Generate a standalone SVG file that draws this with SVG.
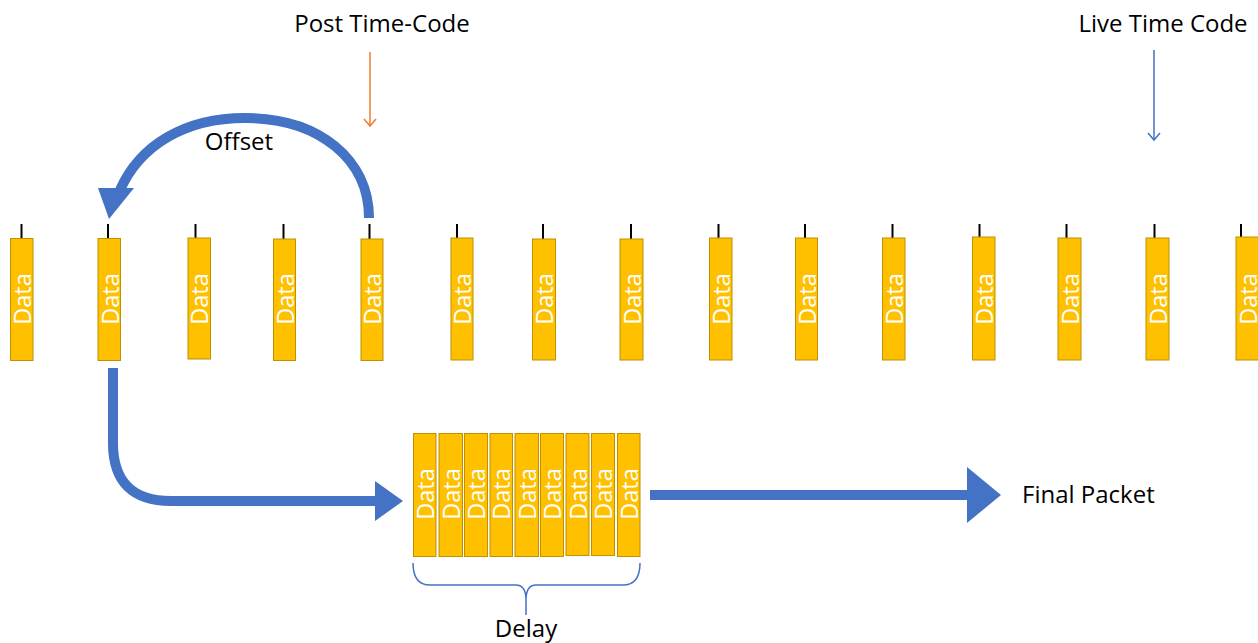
<svg xmlns="http://www.w3.org/2000/svg" width="1258" height="643" viewBox="0 0 1258 643">
<defs>
<style>
.box{fill:#FFC000;stroke:#BF9000;stroke-width:1}
.dt{fill:#ffffff;font-family:"Open Sans","Noto Sans",sans-serif;font-size:23.5px;text-anchor:middle;dominant-baseline:central}
.tick{stroke:#000;stroke-width:2}
.lbl{fill:#000;font-family:"Open Sans","Noto Sans",sans-serif;font-size:24px}
.big{fill:none;stroke:#4472C4;stroke-width:10}
.head{fill:#4472C4}
</style>
</defs>
<rect width="1258" height="643" fill="#ffffff"/>
<g id="labels">
<text class="lbl" x="382" y="32" text-anchor="middle">Post Time-Code</text>
<text class="lbl" x="1163" y="32" text-anchor="middle">Live Time Code</text>
<text class="lbl" x="239" y="150" text-anchor="middle">Offset</text>
<text class="lbl" x="1022" y="503">Final Packet</text>
<text class="lbl" x="526" y="637" text-anchor="middle">Delay</text>
</g>
<g id="row">
<g id="n1"><line class="tick" x1="21.5" y1="224" x2="21.5" y2="238"/><rect class="box" x="10.5" y="238.5" width="22.5" height="122"/><text class="dt" transform="translate(21.5,299) rotate(-90)">Data</text></g>
<g id="n2"><line class="tick" x1="108" y1="224" x2="108" y2="238"/><rect class="box" x="98" y="238.5" width="22.5" height="122"/><text class="dt" transform="translate(109.5,299) rotate(-90)">Data</text></g>
<g id="n3"><line class="tick" x1="195.5" y1="224" x2="195.5" y2="238"/><rect class="box" x="188" y="238" width="22.5" height="121"/><text class="dt" transform="translate(199,299) rotate(-90)">Data</text></g>
<g id="n4"><line class="tick" x1="283.5" y1="224" x2="283.5" y2="239"/><rect class="box" x="273.5" y="239" width="22" height="121.5"/><text class="dt" transform="translate(284.5,299) rotate(-90)">Data</text></g>
<g id="n5"><line class="tick" x1="369.5" y1="224" x2="369.5" y2="239"/><rect class="box" x="361" y="239" width="22" height="121.5"/><text class="dt" transform="translate(372,299) rotate(-90)">Data</text></g>
<g id="n6"><line class="tick" x1="457" y1="224" x2="457" y2="238"/><rect class="box" x="451" y="238" width="22" height="122"/><text class="dt" transform="translate(462,299) rotate(-90)">Data</text></g>
<g id="n7"><line class="tick" x1="543" y1="224" x2="543" y2="239"/><rect class="box" x="532.5" y="239" width="23" height="121"/><text class="dt" transform="translate(544,299) rotate(-90)">Data</text></g>
<g id="n8"><line class="tick" x1="631" y1="224" x2="631" y2="239"/><rect class="box" x="620" y="239" width="23" height="121"/><text class="dt" transform="translate(631.5,299) rotate(-90)">Data</text></g>
<g id="n9"><line class="tick" x1="718.5" y1="224" x2="718.5" y2="238"/><rect class="box" x="709.5" y="238" width="22.5" height="122"/><text class="dt" transform="translate(720.5,299) rotate(-90)">Data</text></g>
<g id="n10"><line class="tick" x1="805" y1="224" x2="805" y2="238"/><rect class="box" x="795.5" y="238" width="22" height="122"/><text class="dt" transform="translate(806.5,299) rotate(-90)">Data</text></g>
<g id="n11"><line class="tick" x1="892.5" y1="224" x2="892.5" y2="238"/><rect class="box" x="882.5" y="238" width="22.5" height="122"/><text class="dt" transform="translate(893.5,299) rotate(-90)">Data</text></g>
<g id="n12"><line class="tick" x1="979.5" y1="224" x2="979.5" y2="237"/><rect class="box" x="972.5" y="237" width="22.5" height="123"/><text class="dt" transform="translate(983.5,299) rotate(-90)">Data</text></g>
<g id="n13"><line class="tick" x1="1066.5" y1="224" x2="1066.5" y2="238"/><rect class="box" x="1058" y="238" width="23" height="122"/><text class="dt" transform="translate(1069.5,299) rotate(-90)">Data</text></g>
<g id="n14"><line class="tick" x1="1154.5" y1="224" x2="1154.5" y2="238"/><rect class="box" x="1146" y="238" width="23" height="122"/><text class="dt" transform="translate(1157.5,299) rotate(-90)">Data</text></g>
<g id="n15"><line class="tick" x1="1241" y1="224" x2="1241" y2="237"/><rect class="box" x="1236" y="237" width="23" height="123"/><text class="dt" transform="translate(1247.5,299) rotate(-90)">Data</text></g>
</g>
<g id="delay">
<g id="d1"><rect class="box" x="413.5" y="433.5" width="22.5" height="123"/><text class="dt" transform="translate(424.7,494) rotate(-90)">Data</text></g>
<g id="d2"><rect class="box" x="439" y="433.5" width="23.5" height="123"/><text class="dt" transform="translate(450.7,494) rotate(-90)">Data</text></g>
<g id="d3"><rect class="box" x="464.5" y="433.5" width="23" height="123"/><text class="dt" transform="translate(476,494) rotate(-90)">Data</text></g>
<g id="d4"><rect class="box" x="490" y="433.5" width="22.5" height="123"/><text class="dt" transform="translate(501.2,494) rotate(-90)">Data</text></g>
<g id="d5"><rect class="box" x="515" y="433.5" width="23.5" height="123"/><text class="dt" transform="translate(526.7,494) rotate(-90)">Data</text></g>
<g id="d6"><rect class="box" x="540.5" y="433.5" width="23" height="123"/><text class="dt" transform="translate(552,494) rotate(-90)">Data</text></g>
<g id="d7"><rect class="box" x="566" y="433.5" width="23" height="122"/><text class="dt" transform="translate(577.5,494) rotate(-90)">Data</text></g>
<g id="d8"><rect class="box" x="591.5" y="433.5" width="23" height="122"/><text class="dt" transform="translate(603,494) rotate(-90)">Data</text></g>
<g id="d9"><rect class="box" x="617.5" y="433.5" width="22.5" height="123"/><text class="dt" transform="translate(628.7,494) rotate(-90)">Data</text></g>
</g>
<g id="connectors">
<line x1="370" y1="52" x2="370" y2="126" stroke="#ED7D31" stroke-width="1.5"/>
<polyline points="364,119 370,126 376,119" fill="none" stroke="#ED7D31" stroke-width="1.5"/>
<line x1="1154" y1="50" x2="1154" y2="140" stroke="#4472C4" stroke-width="1.5"/>
<polyline points="1148,133 1154,140 1160,133" fill="none" stroke="#4472C4" stroke-width="1.5"/>
<path class="big" d="M369,218 C369,160 320,118 245,118 C185,118 140,145 120,190"/>
<polygon class="head" points="98,188 134,188 109,219"/>
<path class="big" d="M113,368 L113,443 Q113,501 171,501 L377,501"/>
<polygon class="head" points="375,481 375,521 403,501"/>
<line class="big" stroke-width="9" x1="650" y1="495" x2="969" y2="495"/>
<polygon class="head" points="967,467 967,523 1001,495"/>
<path d="M413,563 Q413,585 430,585 L516,585 Q526,585 526,600 L526,615 M526,600 Q526,585 536,585 L623,585 Q640,585 640,563" fill="none" stroke="#4472C4" stroke-width="1.5"/>
</g>
</svg>
